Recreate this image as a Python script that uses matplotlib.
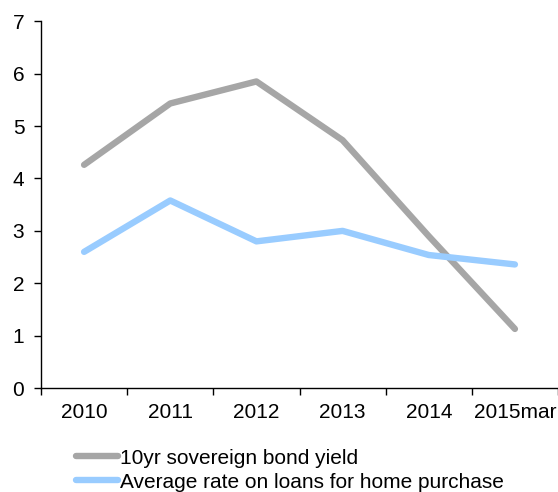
import numpy as np
import matplotlib
matplotlib.use("Agg")
import matplotlib.pyplot as plt

plt.rcParams['font.family'] = ['Liberation Sans', 'DejaVu Sans']

# data
years = ["2010", "2011", "2012", "2013", "2014", "2015mar"]
bond_yield = [4.26, 5.43, 5.85, 4.73, 2.90, 1.13]
loan_rate = [2.60, 3.58, 2.80, 3.00, 2.54, 2.36]

grey = "#A6A6A6"
blue = "#99CCFF"

fig = plt.figure(figsize=(5.58, 4.92), dpi=100)
ax = fig.add_axes([0.0735, 0.211, 0.9265, 0.746])

x = np.arange(len(years))
ax.plot(x, bond_yield, color=grey, lw=4.6, solid_capstyle='round',
        label="10yr sovereign bond yield")
ax.plot(x, loan_rate, color=blue, lw=4.6, solid_capstyle='round',
        label="Average rate on loans for home purchase")

ax.set_xlim(-0.5, len(years) - 0.5)
ax.set_ylim(0, 7)
ax.set_yticks(range(0, 8))

# labels at category centres, tick marks at the boundaries
ax.set_xticks(x)
ax.set_xticklabels(years)
ax.set_xticks(np.arange(-0.5, len(years), 1.0), minor=True)
ax.tick_params(axis='x', which='major', length=0, pad=11, labelsize=15)
ax.tick_params(axis='x', which='minor', length=5, width=1, direction='out')
ax.tick_params(axis='y', length=5, width=1, pad=7, labelsize=15)

for s in ['top', 'right']:
    ax.spines[s].set_visible(False)
for s in ['left', 'bottom']:
    ax.spines[s].set_linewidth(1)

ax.legend(loc='upper left', bbox_to_anchor=(0.052, -0.142), frameon=False,
          fontsize=15, handlelength=2.0, handletextpad=0.12,
          labelspacing=0.24, borderaxespad=0)

fig.savefig("out.png", dpi=100)
